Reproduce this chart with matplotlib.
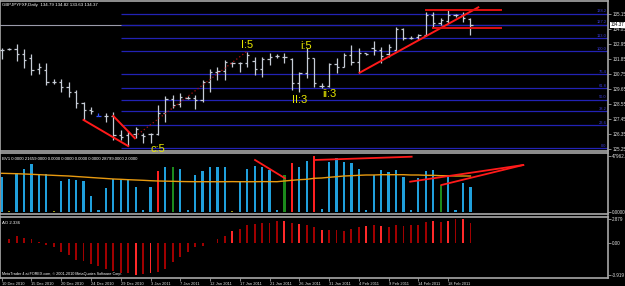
import numpy as np
import matplotlib
matplotlib.use('Agg')
import matplotlib.pyplot as plt
import matplotlib.transforms as mtransforms

# ---- data ----
opens = [132.50, 132.58, 132.58, 132.21, 131.89, 131.11, 131.03, 130.17, 130.17, 129.80,
         129.44, 128.58, 128.09, 127.65, 127.65, 127.65, 126.25, 126.25, 126.30, 126.25,
         126.30, 126.33, 127.85, 128.88, 128.53, 129.00, 128.95, 128.83, 130.17, 130.91,
         130.98, 131.53, 131.53, 131.57, 131.72, 131.08, 131.82, 132.06, 132.01, 131.82,
         130.05, 130.79, 131.89, 129.85, 129.86, 131.45, 131.28, 132.14, 131.64, 132.26,
         132.65, 132.50, 132.21, 132.50, 134.02, 133.41, 133.44, 133.61, 135.08, 134.51,
         134.66, 135.05, 135.08, 134.79]
highs = [132.65, 132.62, 132.94, 132.58, 132.21, 131.53, 131.53, 130.35, 130.35, 130.17,
         129.56, 128.70, 128.29, 127.85, 127.85, 127.97, 126.62, 126.55, 126.86, 126.38,
         126.42, 128.46, 129.12, 129.19, 129.32, 129.12, 129.19, 130.30, 131.08, 131.28,
         131.77, 131.64, 131.64, 132.38, 132.01, 132.01, 132.26, 132.21, 132.26, 131.89,
         130.91, 132.63, 131.89, 130.05, 131.52, 131.89, 132.26, 132.87, 132.63, 132.30,
         133.19, 132.75, 132.94, 134.17, 134.10, 133.53, 133.68, 135.32, 135.32, 134.83,
         135.44, 135.15, 135.32, 134.82]
lows = [131.84, 132.50, 131.71, 131.16, 130.66, 130.74, 129.93, 130.00, 129.44, 129.07,
        128.22, 127.36, 127.80, 127.65, 127.23, 125.89, 125.89, 125.44, 126.00, 125.70,
        125.64, 126.25, 127.23, 128.22, 128.29, 128.88, 128.14, 128.70, 129.44, 130.30,
        130.30, 131.28, 130.91, 131.28, 130.66, 130.54, 131.40, 131.89, 131.53, 129.56,
        129.44, 130.42, 129.80, 129.68, 129.76, 130.83, 131.23, 131.40, 130.83, 132.14,
        132.14, 131.53, 132.01, 132.50, 133.24, 133.31, 133.24, 133.53, 134.10, 134.34,
        134.47, 134.95, 134.58, 133.63]
closes = [132.50, 132.58, 132.21, 131.77, 131.03, 131.23, 130.17, 130.17, 129.80, 129.44,
          128.58, 128.09, 128.04, 127.65, 127.65, 126.25, 126.13, 126.40, 126.70, 126.20,
          126.35, 127.85, 128.88, 128.46, 129.07, 129.00, 128.83, 130.17, 130.91, 130.98,
          131.64, 131.53, 131.57, 132.10, 131.08, 131.82, 132.01, 132.06, 132.01, 130.05,
          130.79, 131.89, 130.10, 129.85, 131.45, 131.23, 132.14, 131.64, 132.26, 132.21,
          132.50, 132.06, 132.70, 134.02, 133.36, 133.41, 133.61, 135.08, 134.47, 134.71,
          135.08, 135.05, 134.83, 134.37]

bv = [30140, 1000, 33320, 36770, 41070, 32200, 32200, 1000, 26440, 28160,
      27300, 26440, 13520, 1500, 20150, 28160, 27300, 28160, 21530, 1460,
      21530, 35050, 38230, 38230, 36770, 1460, 31600, 35050, 38230, 38230,
      38230, 1000, 25320, 36770, 39350, 38230, 35910, 1460, 31600, 41680,
      38230, 43660, 47963, 2320, 43060, 45980, 42540, 41680, 36770, 1460,
      31600, 35910, 34440, 35910, 29620, 1460, 28760, 35050, 35910, 23000,
      29620, 1460, 24450, 21659]
bv_ma = [33070, 32900, 32720, 32460, 32200, 31900, 31600, 31300, 31000, 30740,
         30300, 29880, 29450, 29020, 28600, 28160, 27900, 27560, 27300, 27040,
         26700, 26440, 26300, 26180, 26000, 25900, 25830, 25830, 25830, 25800,
         25830, 25900, 25830, 25800, 25830, 25900, 25900, 25830, 26440, 27040,
         27560, 27900, 28760, 29020, 29620, 30140, 30740, 31000, 31340, 31600,
         31600, 31860, 31860, 31860, 31860, 31600, 31600, 31340, 31340, 31000,
         31000, 30740, 30740, 30740]
bv_red = [21, 39, 42]
bv_green = [23, 38, 59]
bv_olive = [1, 7, 31]

ao = [-0.05, 0.40, 0.85, 0.61, 0.40, 0.12, -0.28, -0.49, -1.17, -1.50,
      -2.11, -2.23, -2.55, -2.79, -3.20, -3.44, -3.72, -3.72, -3.919, -3.85,
      -3.72, -3.60, -3.20, -2.39, -1.70, -1.09, -0.49, -0.36, -0.08, 0.40,
      0.85, 1.40, 1.70, 2.10, 2.30, 2.43, 2.43, 2.60, 2.60, 2.43,
      2.30, 2.19, 1.90, 1.50, 1.50, 1.50, 1.40, 1.62, 1.90, 2.02,
      2.10, 2.02, 1.90, 2.10, 2.02, 2.15, 2.15, 2.47, 2.63, 2.55,
      2.63, 2.85, 2.879, 2.34]
ao_bright = [18, 20, 31, 38, 40, 43, 49, 51, 58, 60, 62]

date_labels = ['10 Dec 2010', '15 Dec 2010', '20 Dec 2010', '24 Dec 2010', '29 Dec 2010',
               '3 Jan 2011', '7 Jan 2011', '12 Jan 2011', '17 Jan 2011', '21 Jan 2011',
               '26 Jan 2011', '31 Jan 2011', '4 Feb 2011', '9 Feb 2011', '14 Feb 2011',
               '18 Feb 2011']

# fibo tool: 0 at 125.27, 100 at 132.43
fib_low, fib_high = 125.27, 132.43
fib_levels = [0.0, 23.6, 38.2, 50.0, 61.8, 76.4, 100.0, 113.0, 127.2, 138.2]

wave_labels = [('c:5', 21.0, 125.25), ('I:5', 33.0, 132.87), ('i:5', 40.9, 132.82),
               ('II:3', 40.0, 128.80), ('ii:3', 44.0, 129.25)]

small = ['Liberation Sans Narrow', 'Liberation Sans', 'DejaVu Sans']
plt.rcParams['font.family'] = small

x = np.arange(len(closes))
bg = 'black'
W, H = 625, 286
fig = plt.figure(figsize=(W / 100, H / 100), dpi=100, facecolor=bg)

def px_axes(top, bottom):
    return fig.add_axes([0, 1 - bottom / H, 608 / W, (bottom - top) / H], facecolor=bg)

ax1 = px_axes(1, 150.5)
ax2 = px_axes(152.5, 214)
ax3 = px_axes(216.5, 278.3)

x0, x1 = -0.228, 81.49
for ax in (ax1, ax2, ax3):
    ax.set_xlim(x0, x1)
    for s in ax.spines.values():
        s.set_color('#a8a8a8')
        s.set_linewidth(1.2)
    ax.yaxis.tick_right()
    ax.tick_params(axis='y', colors='#a0a0a0', labelcolor='#e0e0e0', labelsize=4.5,
                   length=2, width=0.6, pad=1)
    ax.tick_params(axis='x', bottom=False, labelbottom=False)

# ---- price panel ----
ax1.set_ylim(125.113, 136.106)
bar_col = ['#3050ff' if i == 13 else '#c6ccd6' for i in x]
ax1.vlines(x, lows, highs, colors=bar_col, lw=0.9)
ax1.hlines(opens, x - 0.3, x, colors=bar_col, lw=0.9)
ax1.hlines(closes, x, x + 0.3, colors=bar_col, lw=0.9)

ax1.axhline(closes[-1], color='#9a9aaa', lw=0.8, zorder=0)
fib_texts = []
for lv in fib_levels:
    p = fib_low + (fib_high - fib_low) * lv / 100
    ax1.hlines(p, 16.0, x1, colors='#2222b4', lw=0.9, zorder=0)
    fib_texts.append(ax1.text(81.3, p + 0.03, '%.1f' % lv, color='#3a3ad8',
                              fontsize=4, ha='right', va='bottom'))

# trend lines drawn on the chart
ax1.plot([11.0, 17.0], [127.36, 125.44], color='#ff1a1a', lw=1.4)
ax1.plot([15.0, 17.9], [127.65, 126.01], color='#ff1a1a', lw=1.4)
ax1.plot([17.9, 32.9], [126.13, 132.38], color='#b01010', lw=0.9, ls=(0, (1, 2)))
ax1.plot([48.1, 64.06], [130.83, 135.64], color='#ff1a1a', lw=1.4)
ax1.plot([57.0, 67.1], [135.41, 135.41], color='#e01010', lw=1.4)
ax1.plot([58.0, 67.1], [134.12, 134.12], color='#e01010', lw=1.4)

for t, tx, ty in wave_labels:
    ax1.text(tx, ty, t, color='#e8e800', fontsize=8, ha='center', va='center',
             family=['Liberation Sans', 'DejaVu Sans'])

ax1.set_yticks([135.15 - 1.1 * k for k in range(10)])
ax1.set_yticklabels(['%.2f' % (135.15 - 1.1 * k) for k in range(10)])
tr = mtransforms.blended_transform_factory(ax1.transAxes, ax1.transData)
bid = ax1.text(1.004, closes[-1], '%.2f' % closes[-1], transform=tr, fontsize=4.5,
               color='black', va='center', ha='left',
               bbox=dict(fc='white', ec='none', pad=0.5))
title = ax1.text(0.004, 0.985, 'GBPJPYFXF,Daily  134.79 134.82 133.63 134.37',
                 transform=ax1.transAxes, color='white', fontsize=4.5, va='top')

# ---- BV panel ----
ax2.set_ylim(-1980, 50977)
bv_col = []
for i in x:
    if i in bv_red:
        bv_col.append('#ff2020')
    elif i in bv_green:
        bv_col.append('#1c8a1c')
    elif i in bv_olive:
        bv_col.append('#9a9a10')
    else:
        bv_col.append('#20a0dc')
ax2.bar(x, bv, width=0.3, color=bv_col)
ax2.plot(x, bv_ma, color='#e89a10', lw=1.0)
ax2.plot([34.05, 38.08], [44520, 28760], color='#ff1a1a', lw=1.3)
ax2.plot([42.0, 55.1], [44520, 47360], color='#ff1a1a', lw=1.3)
ax2.plot([54.9, 70.1], [25830, 40210], color='#ff1a1a', lw=1.3)
ax2.plot([59.1, 70.1], [22990, 40210], color='#ff1a1a', lw=1.3)
ax2.set_yticks([0, 47963])
ax2.set_yticklabels(['0.0000', '47962.9'])
bvlab = ax2.text(0.004, 0.93,
                 'BV1 0.0000 21659.0000 0.0000 0.0000 0.0000 0.0000 28799.0000 2.0000',
                 transform=ax2.transAxes, color='white', fontsize=4.2, va='top')

# ---- AO panel ----
ax3.set_ylim(-4.32, 3.18)
ao_col = ['#ff2a2a' if i in ao_bright else '#a00000' for i in x]
ax3.bar(x, ao, width=0.25, color=ao_col)
ax3.set_yticks([-3.919, 0, 2.879])
ax3.set_yticklabels(['-3.919', '0.00', '2.879'])
aolab = ax3.text(0.004, 0.93, 'AO 2.336', transform=ax3.transAxes, color='white',
                 fontsize=4.5, va='top')
mt = ax3.text(0.004, 0.03,
              'MetaTrader 4 at FOREX.com, \u00a9 2001-2010 MetaQuotes Software Corp.',
              transform=ax3.transAxes, color='white', fontsize=4.3, va='bottom')

ax3.set_xticks(np.arange(0, 64, 4))
ax3.set_xticklabels(date_labels, ha='left')
ax3.tick_params(axis='x', bottom=True, labelbottom=True, colors='#a0a0a0',
                labelcolor='#e0e0e0', labelsize=4.3, length=2, width=0.6, pad=0.5)

# shrink the small MT4 texts to the widths seen in the screenshot
fig.canvas.draw()
rend = fig.canvas.get_renderer()

def fit(t, target):
    w = t.get_window_extent(rend).width
    t.set_fontsize(t.get_fontsize() * target / w)

fit(title, 95)
fit(bvlab, 143)
fit(aolab, 18)
fit(mt, 122)
fit(bid, 14)
for t in fib_texts:
    if t.get_text() == '100.0':
        f = 10 / t.get_window_extent(rend).width
for t in fib_texts:
    t.set_fontsize(t.get_fontsize() * f)

ylab = ax1.get_yticklabels()[0]
ysize = 4.5 * 14 / ylab.get_window_extent(rend).width
for ax in (ax1, ax2, ax3):
    ax.tick_params(axis='y', labelsize=ysize)
dlab = ax3.get_xticklabels()[2]
ax3.tick_params(axis='x', labelsize=4.3 * 23 / dlab.get_window_extent(rend).width)

fig.savefig('out.png', dpi=100, facecolor=bg)
